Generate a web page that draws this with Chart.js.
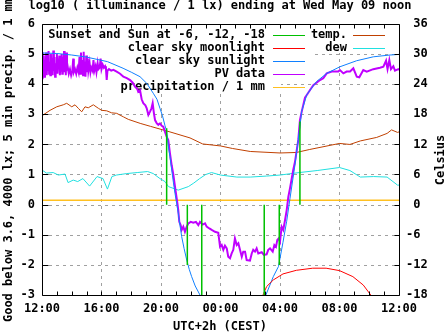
<!DOCTYPE html>
<html>
<head>
<meta charset="utf-8">
<script src="https://cdn.jsdelivr.net/npm/chart.js@4.4.1/dist/chart.umd.min.js"></script>
<style>
  body { margin: 0; background: #fff; }
  canvas { display: block; }
</style>
</head>
<body>
<canvas id="lux" width="447" height="335"></canvas>
<script>
// x is hours since 12:00 (local, UTC+2)
const hourTicks = [0, 4, 8, 12, 16, 20, 24];
const hourLabels = ["12:00", "16:00", "20:00", "00:00", "04:00", "08:00", "12:00"];
const logTicks = [-3, -2, -1, 0, 1, 2, 3, 4, 5, 6];
const celsiusTicks = [-18, -12, -6, 0, 6, 12, 18, 24, 30, 36];

// sunset / sunrise and sun at -6, -12 deg; each line runs from 0 to the clear sky level
const sunHours = [8.38, 9.77, 10.74, 14.94, 15.95, 17.34];
const sunLevels = [2.54, -2.0, -4.0, -4.0, -2.0, 2.76];

const moonHours = [14.6, 14.9, 15.1, 15.55, 16.2, 17.1, 18.2, 19.1, 20.0, 20.9, 21.6, 22.1, 22.3];
const moonLux = [-3.3, -2.95, -2.72, -2.5, -2.3, -2.18, -2.11, -2.11, -2.19, -2.39, -2.67, -3.0, -3.15];

const sunCurveHours = [0, 1, 2, 3, 4.4, 5.45, 6.0, 6.59, 7.04, 7.48, 7.73, 7.93, 8.1, 8.27, 8.38, 8.49,
  8.6, 8.72, 8.83, 8.94, 9.05, 9.16, 9.28, 9.39, 9.55, 9.73, 9.9, 10.06, 10.3, 10.62, 10.9,
  14.8, 15.05, 15.55, 15.9, 16.2, 16.45, 16.67, 17.0, 17.34, 17.46, 17.8, 18.46, 19.14, 20.03,
  21.15, 22.27, 23.4, 24];
const sunCurveLux = [5.04, 5.02, 4.97, 4.9, 4.75, 4.53, 4.4, 4.25, 4.03, 3.7, 3.5, 3.2, 2.95, 2.62, 2.45, 1.95,
  1.6, 1.15, 0.75, 0.38, 0.05, -0.28, -0.7, -1.06, -1.45, -1.84, -2.15, -2.39, -2.7, -3.0, -3.35,
  -3.4, -3.0, -2.39, -2.05, -1.25, -0.55, 0.2, 1.3, 2.6, 3.1, 3.65, 4.09, 4.36, 4.58,
  4.78, 4.91, 4.97, 4.99];

const pvHours = [0.00, 0.04, 0.08, 0.12, 0.16, 0.20, 0.24, 0.28, 0.32, 0.36, 0.40, 0.44, 0.48, 0.52,
  0.56, 0.60, 0.64, 0.68, 0.72, 0.76, 0.80, 0.84, 0.88, 0.92, 0.96, 1.00, 1.04, 1.08, 1.12, 1.16,
  1.20, 1.24, 1.28, 1.32, 1.36, 1.40, 1.44, 1.48, 1.52, 1.56, 1.60, 1.64, 1.68, 1.72, 1.80, 1.88,
  1.96, 2.04, 2.10, 2.14, 2.22, 2.30, 2.38, 2.46, 2.52, 2.56, 2.62, 2.66, 2.72, 2.76, 2.80, 2.84,
  2.88, 2.92, 2.98, 3.02, 3.08, 3.12, 3.20, 3.26, 3.32, 3.40, 3.46, 3.52, 3.60, 3.66, 3.74, 3.80,
  3.88, 3.94, 4.00, 4.08, 4.16, 4.24, 4.30, 4.35, 4.40, 4.50, 4.65, 4.80, 5.02, 5.25, 5.47, 5.70,
  5.92, 6.10, 6.25, 6.40, 6.47, 6.59, 6.70, 6.81, 6.95, 7.04, 7.15, 7.26, 7.36, 7.44, 7.52, 7.60,
  7.72, 7.82, 7.93, 8.05, 8.15, 8.27, 8.38, 8.49, 8.60, 8.72, 8.83, 8.94, 9.10, 9.16, 9.23, 9.32,
  9.39, 9.50, 9.61, 9.73, 9.84, 10.00, 10.17, 10.35, 10.51, 10.62, 10.80, 10.96, 11.07, 11.25,
  11.41, 11.63, 11.85, 11.97, 12.08, 12.19, 12.30, 12.42, 12.52, 12.64, 12.75, 12.86, 12.97,
  13.09, 13.20, 13.31, 13.43, 13.53, 13.65, 13.76, 13.98, 14.10, 14.20, 14.32, 14.43, 14.54,
  14.77, 14.92, 15.10, 15.21, 15.33, 15.51, 15.62, 15.73, 15.82, 15.91, 16.00, 16.11, 16.22,
  16.34, 16.45, 16.56, 16.67, 16.79, 16.89, 17.01, 17.23, 17.34, 17.46, 17.68, 17.80, 18.02,
  18.24, 18.69, 18.91, 19.14, 19.48, 19.92, 20.03, 20.26, 20.48, 20.71, 20.93, 21.16, 21.33,
  21.60, 21.83, 22.27, 22.72, 22.95, 23.13, 23.23, 23.35, 23.46, 23.62, 23.73, 23.95, 24.00];
const pvLux = [4.20, 5.05, 4.30, 4.95, 4.25, 4.80, 4.40, 5.05, 4.30, 4.90, 4.45, 5.10, 4.35, 4.75,
  4.30, 5.00, 4.40, 4.85, 4.30, 5.12, 4.45, 4.90, 4.25, 4.70, 4.40, 5.00, 4.35, 4.85, 4.50, 4.95,
  4.30, 4.65, 4.45, 5.00, 4.35, 4.90, 4.45, 5.10, 4.40, 4.80, 4.30, 5.05, 4.45, 4.60, 4.35, 4.50,
  4.30, 4.45, 4.85, 4.40, 4.50, 4.35, 4.55, 4.40, 4.90, 4.35, 5.05, 4.40, 4.80, 4.30, 5.08, 4.45,
  4.75, 4.25, 4.95, 4.40, 4.85, 4.45, 4.70, 4.40, 4.55, 4.45, 4.80, 4.45, 4.60, 4.40, 4.70, 4.50,
  4.55, 4.85, 4.50, 4.65, 4.55, 4.60, 4.50, 4.14, 4.45, 4.50, 4.45, 4.48, 4.42, 4.35, 4.25, 4.20,
  4.14, 4.05, 3.92, 3.85, 3.75, 3.80, 3.50, 3.37, 3.30, 3.20, 2.98, 3.09, 3.20, 3.37, 3.05, 2.81,
  2.70, 2.65, 2.70, 2.62, 2.59, 2.42, 2.26, 2.15, 1.71, 1.30, 1.00, 0.60, 0.05, -0.18, -0.57, -0.68,
  -0.84, -0.73, -0.90, -0.73, -0.62, -0.57, -0.60, -0.57, -0.68, -0.57, -0.66, -0.62, -0.73, -0.79,
  -0.84, -0.90, -0.93, -1.40, -1.34, -1.50, -1.36, -1.45, -1.73, -1.78, -1.62, -1.50, -1.12,
  -1.34, -1.28, -1.50, -1.73, -1.56, -1.56, -1.84, -1.86, -1.62, -1.50, -1.56, -1.45, -1.62,
  -1.58, -1.67, -1.65, -1.50, -1.45, -1.56, -1.34, -1.40, -1.17, -1.12, -1.23, -0.73, -0.84,
  -0.51, -0.18, 0.26, 0.54, 0.87, 1.15, 1.43, 2.15, 2.81, 3.09, 3.55, 3.64, 3.81,
  3.97, 4.14, 4.20, 4.36, 4.42, 4.42, 4.47, 4.36, 4.42, 4.42, 4.53, 4.25, 4.23,
  4.47, 4.42, 4.50, 4.55, 4.58, 4.78, 4.50, 4.80, 4.50, 4.60, 4.45, 4.50, 4.47];

// accumulated precipitation, mm
const rainHours = [0, 4.17, 24];
const rainMm = [0, 0.15, 0.15];

// temperature and dew point, Celsius
const tempHours = [0, 0.09, 0.54, 0.99, 1.43, 1.66, 2.0, 2.22, 2.44, 2.67, 2.89, 3.11, 3.45, 3.79,
  4.01, 4.35, 4.68, 5.02, 5.47, 5.8, 6.6, 7.3, 8.6, 9.95, 10.8, 12.0, 12.8, 14.0, 16.0, 17.1,
  18.0, 20.0, 20.7, 21.4, 22.5, 23.2, 23.5, 23.9, 24];
const tempC = [18.0, 17.9, 18.8, 19.5, 19.9, 20.2, 19.5, 19.9, 19.2, 18.5, 19.5, 19.3, 19.9, 19.2,
  18.8, 18.7, 18.3, 18.2, 17.5, 17.0, 16.2, 15.6, 14.5, 13.3, 12.1, 11.7, 11.2, 10.6, 10.3, 10.4,
  11.0, 12.2, 12.0, 12.7, 13.4, 14.2, 14.9, 14.4, 14.5];
const dewHours = [0, 0.3, 0.75, 1.1, 1.55, 1.75, 2.1, 2.4, 2.75, 3.2, 3.7, 4.1, 4.4, 4.7, 5.0, 5.7,
  6.4, 7.1, 7.48, 7.93, 8.27, 8.5, 9.16, 9.84, 10.2, 10.6, 11.0, 11.4, 12.0, 13.1, 14.0, 15.1,
  16.0, 17.3, 18.5, 20.0, 20.7, 21.4, 22.3, 23.2, 23.9, 24];
const dewC = [6.9, 6.3, 6.4, 5.9, 6.1, 4.4, 4.9, 4.6, 5.2, 3.7, 5.6, 5.2, 3.1, 5.6, 5.9, 6.2,
  6.4, 6.6, 6.2, 5.2, 4.6, 3.6, 2.9, 3.6, 4.3, 5.2, 6.0, 6.4, 5.9, 5.5, 5.5, 5.7,
  5.9, 6.4, 6.8, 7.4, 6.8, 5.5, 5.6, 5.5, 3.9, 3.9];

const FONT = "bold 12px 'DejaVu Sans Mono', 'Liberation Mono', monospace";

function pts(xs, ys) {
  return xs.map((x, i) => ({ x: x, y: ys[i] }));
}

let sunLines = [];
sunHours.forEach((h, i) => {
  sunLines.push({ x: h, y: 0 }, { x: h, y: sunLevels[i] }, { x: h, y: null });
});

// key: column, row, dataset index
const keyLayout = [[0, 0, 0], [0, 1, 1], [0, 2, 2], [0, 3, 3], [0, 4, 4], [1, 0, 5], [1, 1, 6]];
// areas kept free of grid lines behind the key
const keyMask = [[42, 24, 281, 93], [281, 24, 312, 60], [312, 24, 399, 53]];

function fmtSigned(v) {
  return v < 0 ? String(v) : " " + v;
}

const gnuplotFrame = {
  id: "gnuplotFrame",
  beforeDatasetsDraw(chart) {
    const ctx = chart.ctx;
    const a = chart.chartArea;
    const x = chart.scales.x, y = chart.scales.y;
    const snap = (p) => Math.round(p - 0.1) + 0.5;

    // dashed grid
    ctx.save();
    ctx.beginPath();
    ctx.rect(a.left, a.top, a.right - a.left, a.bottom - a.top);
    keyMask.forEach(r => ctx.rect(r[0], r[1], r[2] - r[0], r[3] - r[1]));
    ctx.clip("evenodd");
    ctx.strokeStyle = "#a0a0a0";
    ctx.lineWidth = 1;
    ctx.setLineDash([3, 4]);
    ctx.beginPath();
    hourTicks.slice(1, -1).forEach(h => {
      const px = snap(x.getPixelForValue(h));
      ctx.moveTo(px, a.top);
      ctx.lineTo(px, a.bottom);
    });
    logTicks.slice(1, -1).forEach(v => {
      const py = snap(y.getPixelForValue(v));
      ctx.moveTo(a.left, py);
      ctx.lineTo(a.right, py);
    });
    ctx.stroke();
    ctx.restore();

    // key
    ctx.save();
    ctx.font = FONT;
    ctx.fillStyle = "#000";
    ctx.textAlign = "right";
    ctx.textBaseline = "middle";
    keyLayout.forEach(k => {
      const ds = chart.data.datasets[k[2]];
      const ty = 35 + k[1] * 13;
      const textRight = k[0] === 0 ? 265 : 347;
      const lineLeft = k[0] === 0 ? 273 : 353;
      ctx.fillText(ds.label, textRight, ty);
      ctx.strokeStyle = ds.borderColor;
      ctx.lineWidth = 1;
      ctx.beginPath();
      ctx.moveTo(lineLeft, ty + 0.5);
      ctx.lineTo(lineLeft + 32, ty + 0.5);
      ctx.stroke();
    });
    ctx.restore();
  },
  afterDraw(chart) {
    const ctx = chart.ctx;
    const a = chart.chartArea;
    const x = chart.scales.x, y = chart.scales.y, y2 = chart.scales.y2;
    const L = Math.round(a.left) + 0.5, R = Math.round(a.right) + 0.5;
    const T = Math.round(a.top) + 0.5, B = Math.round(a.bottom) + 0.5;

    ctx.save();
    ctx.strokeStyle = "#000";
    ctx.lineWidth = 1;
    ctx.beginPath();
    ctx.rect(L, T, R - L, B - T);
    // hour ticks, bottom and top
    for (let h = 1; h < 24; h++) {
      const px = Math.round(x.getPixelForValue(h) - 0.1) + 0.5;
      ctx.moveTo(px, B);
      ctx.lineTo(px, B - 4);
      ctx.moveTo(px, T);
      ctx.lineTo(px, T + 4);
    }
    logTicks.forEach(v => {
      const py = Math.round(y.getPixelForValue(v) - 0.1) + 0.5;
      ctx.moveTo(L, py);
      ctx.lineTo(L + 6, py);
    });
    celsiusTicks.forEach(v => {
      const py = Math.round(y2.getPixelForValue(v) - 0.1) + 0.5;
      ctx.moveTo(R, py);
      ctx.lineTo(R - 5, py);
    });
    ctx.stroke();

    ctx.font = FONT;
    ctx.fillStyle = "#000";
    ctx.textBaseline = "middle";

    ctx.textAlign = "right";
    logTicks.forEach(v => ctx.fillText(String(v), 35, y.getPixelForValue(v)));
    ctx.textAlign = "left";
    celsiusTicks.forEach(v => ctx.fillText(fmtSigned(v), 406, y2.getPixelForValue(v)));
    ctx.textAlign = "center";
    hourTicks.forEach((h, i) => ctx.fillText(hourLabels[i], x.getPixelForValue(h), 309));

    ctx.fillText("log10 ( illuminance / 1 lx) ending at Wed May 09 noon", 220, 6);
    ctx.fillText("UTC+2h (CEST)", 220, 327);

    ctx.save();
    ctx.translate(9, 159.5);
    ctx.rotate(-Math.PI / 2);
    ctx.fillText("Good below 3.6, 4000 lx; 5 min precip. / 1 mm", 0, 0);
    ctx.restore();

    ctx.save();
    ctx.translate(441, 160);
    ctx.rotate(-Math.PI / 2);
    ctx.fillText("Celsius", 0, 0);
    ctx.restore();
    ctx.restore();
  }
};

new Chart(document.getElementById("lux").getContext("2d"), {
  type: "line",
  data: {
    datasets: [
      { label: "Sunset and Sun at -6, -12, -18", data: sunLines, borderColor: "#00c000", borderWidth: 1.5, spanGaps: false },
      { label: "clear sky moonlight", data: pts(moonHours, moonLux), borderColor: "#ff0000", borderWidth: 1 },
      { label: "clear sky sunlight", data: pts(sunCurveHours.slice(0, 31), sunCurveLux.slice(0, 31))
          .concat([{ x: 12.7, y: null }], pts(sunCurveHours.slice(31), sunCurveLux.slice(31))),
        borderColor: "#1080ff", borderWidth: 1, spanGaps: false },
      { label: "PV data", data: pts(pvHours, pvLux), borderColor: "#c000ff", borderWidth: 2 },
      { label: "precipitation / 1 mm", data: pts(rainHours, rainMm), borderColor: "#ffc020", borderWidth: 1.5, stepped: "after" },
      { label: "temp.", data: pts(tempHours, tempC), borderColor: "#c04000", borderWidth: 1, yAxisID: "y2" },
      { label: "dew", data: pts(dewHours, dewC), borderColor: "#20e0e0", borderWidth: 1, yAxisID: "y2" }
    ]
  },
  options: {
    responsive: false,
    animation: false,
    devicePixelRatio: 1,
    layout: { padding: { left: 42, right: 48, top: 24, bottom: 40 } },
    elements: { point: { radius: 0 }, line: { tension: 0 } },
    datasets: { line: { clip: 0 } },
    plugins: { legend: { display: false }, tooltip: { enabled: false } },
    scales: {
      x: { type: "linear", min: 0, max: 24, display: false },
      y: { min: -3, max: 6, display: false },
      y2: { min: -18, max: 36, position: "right", display: false }
    }
  },
  plugins: [gnuplotFrame]
});
</script>
</body>
</html>
